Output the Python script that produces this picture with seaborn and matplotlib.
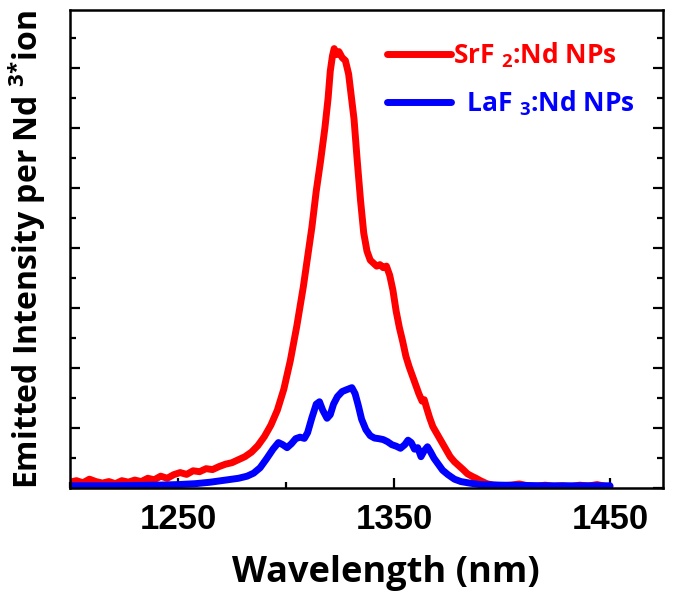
import matplotlib
matplotlib.use("Agg")
import matplotlib.pyplot as plt
from matplotlib.ticker import MultipleLocator
import seaborn as sns
import pandas as pd

# Emission spectra (wavelength in nm, intensity per Nd3+ ion, arb. units)
srf2_nm = [1200, 1203, 1206, 1209, 1212, 1215, 1218, 1221, 1224, 1227, 1230, 1233, 1236, 1239,
           1242, 1245, 1248, 1251, 1254, 1257, 1260, 1263, 1266, 1269, 1272, 1275, 1278, 1281,
           1284, 1287, 1290, 1293, 1296, 1299, 1302, 1305, 1308, 1310, 1312, 1314, 1316, 1318,
           1319.5, 1320.5, 1321.5, 1322.3, 1323.5, 1324.5, 1326, 1327.5, 1329, 1330, 1331.5,
           1333, 1334.5, 1336, 1337.5, 1339, 1340.5, 1342, 1343.5, 1345, 1346.5, 1348, 1349.5,
           1351, 1352.5, 1354, 1355.5, 1357, 1358.5, 1360, 1361.5, 1363, 1364, 1365, 1366.5,
           1368, 1370, 1372, 1374, 1376, 1378, 1380, 1382, 1384, 1386, 1388, 1390, 1393, 1396,
           1400, 1404, 1408, 1412, 1416, 1420, 1424, 1428, 1432, 1436, 1440, 1444, 1448, 1450]
srf2_int = [0.20, 0.25, 0.18, 0.30, 0.22, 0.17, 0.22, 0.15, 0.25, 0.20, 0.27, 0.22, 0.33, 0.28,
            0.40, 0.33, 0.45, 0.52, 0.46, 0.58, 0.55, 0.65, 0.62, 0.72, 0.80, 0.85, 0.95, 1.05,
            1.20, 1.42, 1.72, 2.10, 2.60, 3.30, 4.25, 5.40, 6.70, 7.70, 8.70, 9.90, 10.90, 12.00,
            13.00, 13.90, 14.40, 14.65, 14.45, 14.55, 14.35, 14.25, 13.80, 13.20, 12.30,
            10.90, 9.60, 8.50, 7.90, 7.60, 7.50, 7.40, 7.45, 7.35, 7.40, 7.10, 6.60,
            5.90, 5.35, 4.90, 4.40, 4.05, 3.75, 3.45, 3.15, 2.90, 2.95, 2.70, 2.35,
            2.05, 1.80, 1.55, 1.30, 1.05, 0.88, 0.75, 0.62, 0.48, 0.40, 0.33, 0.25, 0.15, 0.10,
            0.08, 0.10, 0.14, 0.08, 0.06, 0.10, 0.06, 0.08, 0.05, 0.10, 0.07, 0.12, 0.06, 0.05]

laf3_nm = [1200, 1210, 1220, 1230, 1240, 1250, 1258, 1265, 1272, 1278, 1282, 1285, 1288, 1291,
           1294, 1296.5, 1298.5, 1300.5, 1302.5, 1304.5, 1306.5, 1308.5, 1310, 1312, 1314,
           1315.5, 1317, 1319, 1320.5, 1322, 1323.8, 1326, 1328, 1330.5, 1332, 1333.5, 1335,
           1337, 1339, 1341, 1343, 1345, 1347, 1349, 1351, 1353, 1355, 1356.5, 1358, 1359.5,
           1361, 1362.5, 1364, 1365.5, 1367, 1368.5, 1370.5, 1372.5, 1375, 1378, 1381, 1385,
           1390, 1400, 1410, 1420, 1430, 1440, 1450]
laf3_int = [0.08, 0.08, 0.08, 0.09, 0.10, 0.12, 0.15, 0.20, 0.27, 0.33, 0.40, 0.50, 0.68, 0.98,
            1.30, 1.52, 1.45, 1.35, 1.48, 1.65, 1.70, 1.66, 1.85, 2.35, 2.80,
            2.88, 2.60, 2.33, 2.45, 2.80, 3.05, 3.22, 3.28, 3.35, 3.15, 2.75, 2.30,
            1.95, 1.75, 1.67, 1.65, 1.62, 1.55, 1.45, 1.40, 1.33, 1.45, 1.60, 1.52, 1.30,
            1.35, 1.05, 1.25, 1.38, 1.20, 1.00, 0.80, 0.60, 0.45, 0.30, 0.22, 0.17,
            0.12, 0.10, 0.09, 0.08, 0.08, 0.08, 0.08]

series_labels = ["SrF $_{\\mathbf{2}}$:Nd NPs", "  LaF $_{\\mathbf{3}}$:Nd NPs"]
x_ticks = [1250, 1350, 1450]

df = pd.concat([
    pd.DataFrame({"wavelength": srf2_nm, "intensity": srf2_int, "sample": series_labels[0]}),
    pd.DataFrame({"wavelength": laf3_nm, "intensity": laf3_int, "sample": series_labels[1]}),
], ignore_index=True)

sns.set_theme(style="white")
plt.rcParams["font.family"] = ["Open Sans", "DejaVu Sans"]
plt.rcParams["mathtext.fontset"] = "custom"
plt.rcParams["mathtext.rm"] = "Open Sans"
plt.rcParams["mathtext.bf"] = "Open Sans:bold"

fig = plt.figure(figsize=(6.73, 5.99), dpi=100)
ax = fig.add_axes([0.104, 0.185, 0.881, 0.798])

sns.lineplot(data=df, x="wavelength", y="intensity", hue="sample",
             palette=["#ff0000", "#0000ff"], linewidth=5, sort=False,
             estimator=None, ax=ax, legend=False)

ax.set_xlim(1200, 1474.5)
ax.set_ylim(0, 15.93)
ax.set_xticks(x_ticks)
ax.xaxis.set_minor_locator(MultipleLocator(50))
ax.yaxis.set_major_locator(MultipleLocator(2))
ax.yaxis.set_minor_locator(MultipleLocator(1))
ax.set_yticklabels([])

ax.tick_params(axis="both", which="both", direction="in", width=1.6, color="black")
ax.tick_params(axis="both", which="major", length=7)
ax.tick_params(axis="both", which="minor", length=4)
ax.tick_params(axis="y", which="both", left=True, right=True)
ax.tick_params(axis="x", which="both", bottom=True, top=False, pad=11)
for lbl in ax.get_xticklabels():
    lbl.set_fontfamily(["Liberation Sans Narrow", "Liberation Sans"])
    lbl.set_fontweight("bold")
    lbl.set_fontsize(25)
    lbl.set_color("black")

for side in ax.spines.values():
    side.set_linewidth(1.8)
    side.set_color("black")

ax.set_xlabel("Wavelength (nm)", fontsize=26, fontweight="bold", labelpad=13, color="black")
ax.xaxis.label.set_x(0.533)
ax.set_ylabel("Emitted Intensity per Nd $^{\\mathbf{3}{\\mathbf{*}}}$ion", fontsize=23,
              fontweight="bold", labelpad=12, color="black")

lines = ax.get_lines()[:2]
leg = ax.legend(lines, series_labels, loc="upper right", frameon=False,
                prop={"family": "Open Sans", "weight": "bold", "size": 19},
                handlelength=2.4, handletextpad=0.1, labelspacing=0.72,
                bbox_to_anchor=(0.9935, 0.987), labelcolor="linecolor")

fig.savefig("out.png", dpi=100)
